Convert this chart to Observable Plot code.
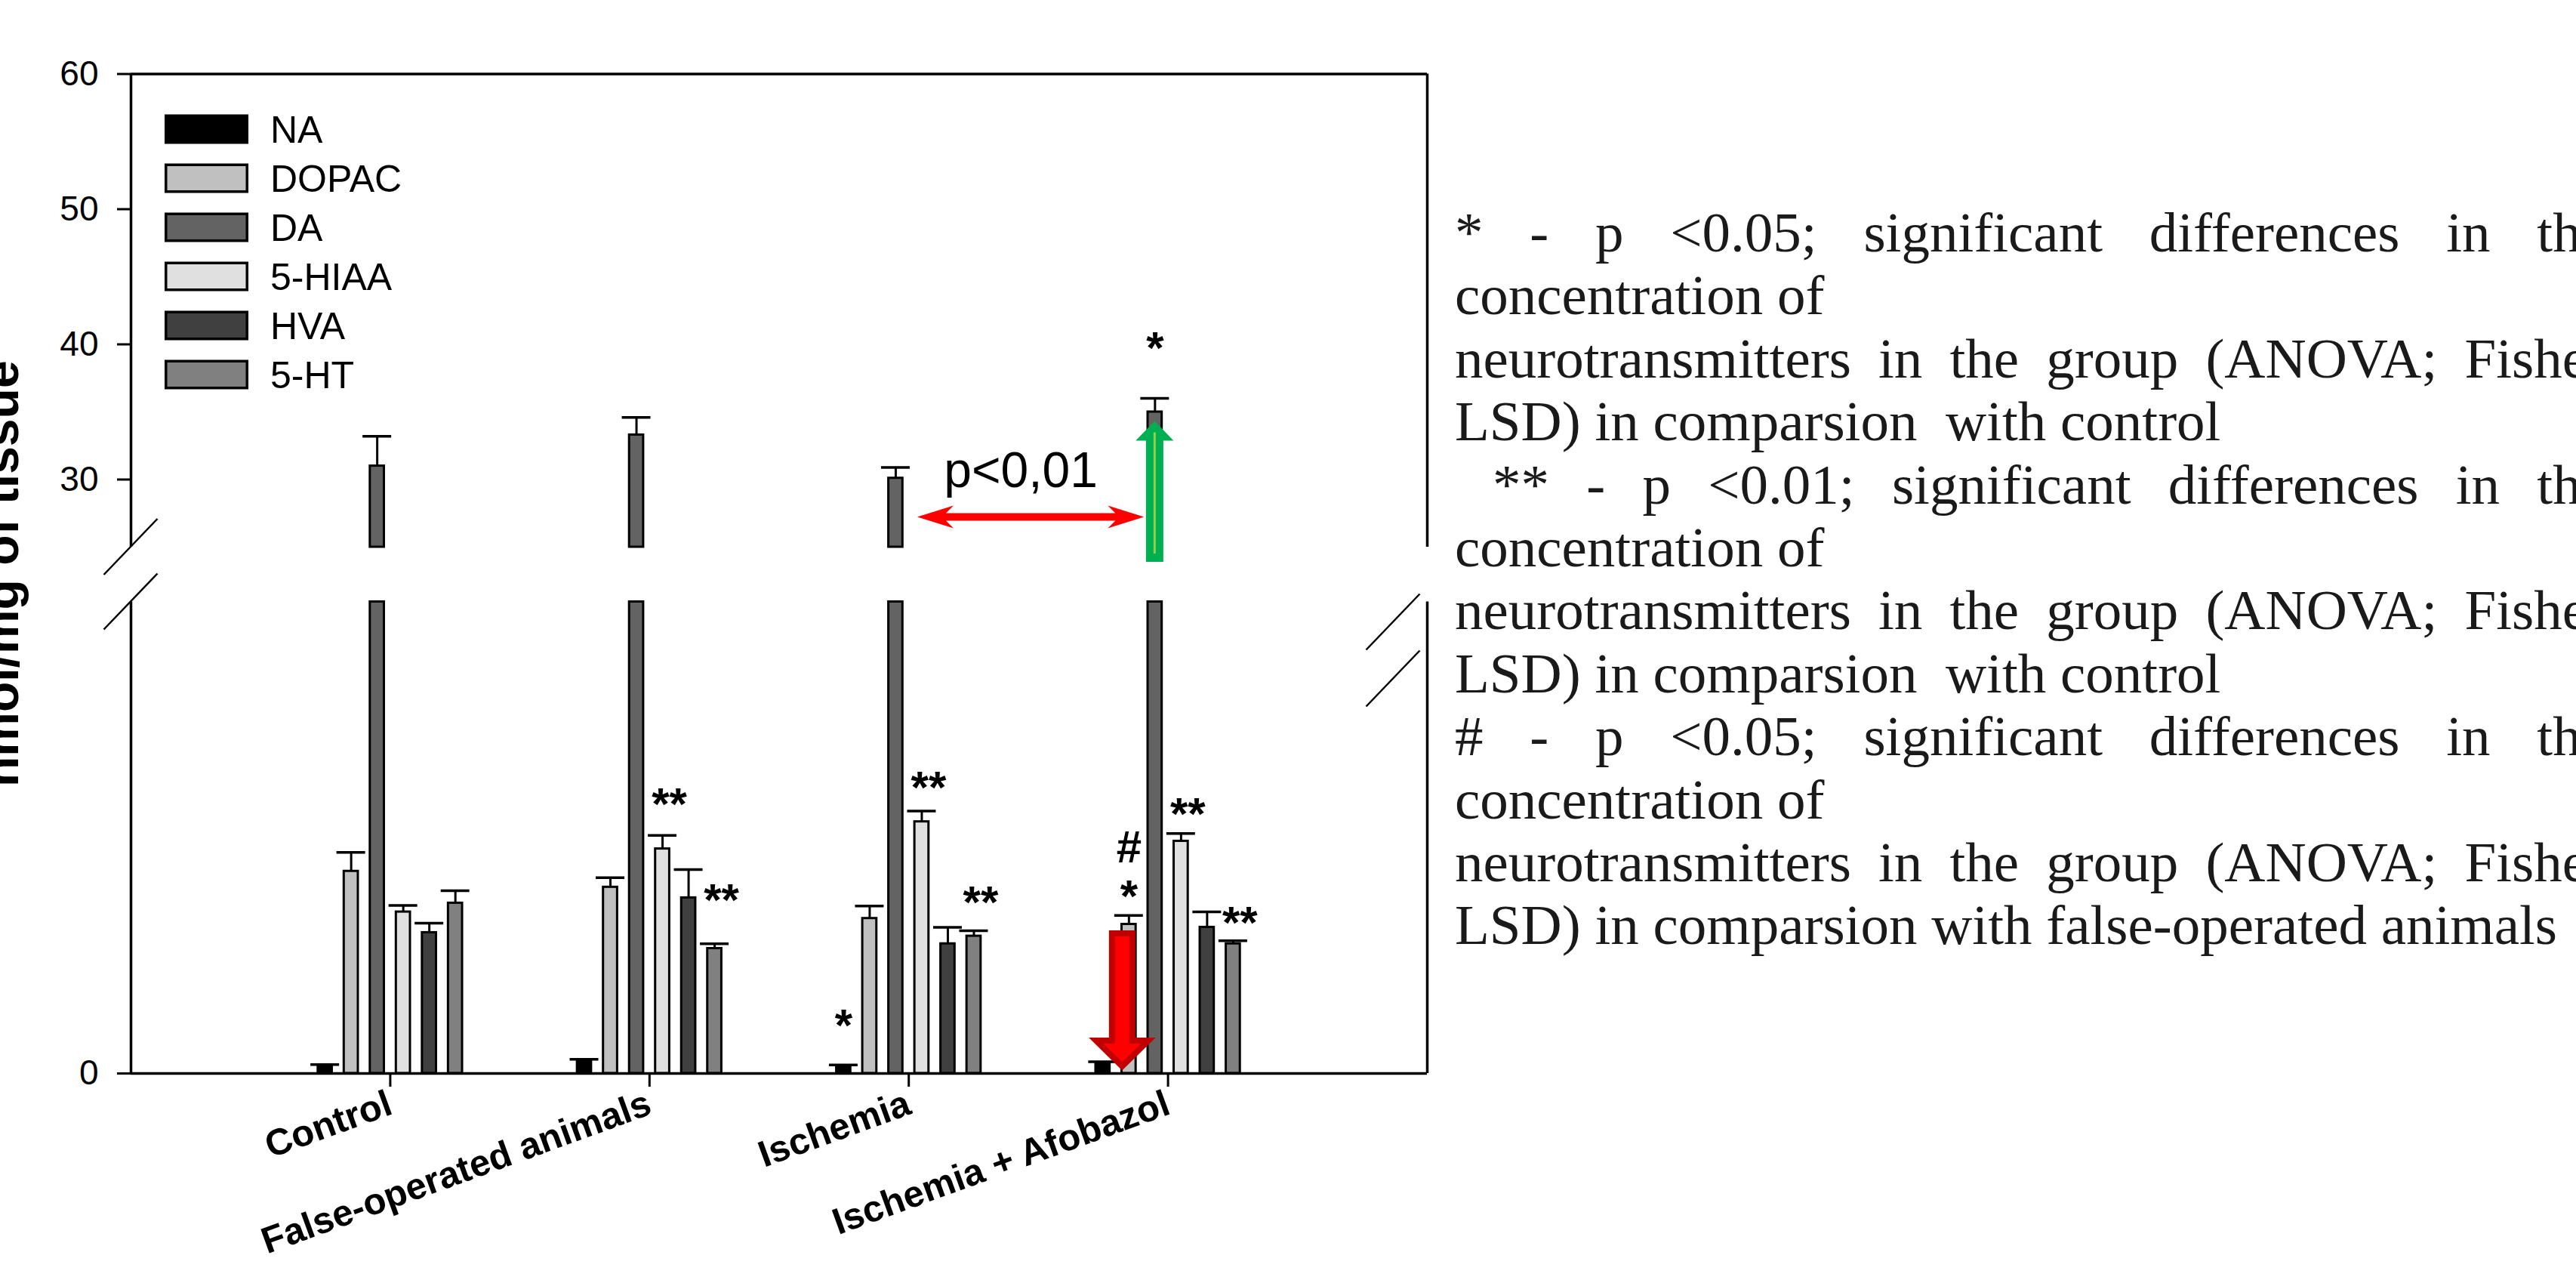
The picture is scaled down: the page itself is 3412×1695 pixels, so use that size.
<!DOCTYPE html>
<html>
<head>
<meta charset="utf-8">
<script src="https://cdn.jsdelivr.net/npm/d3@7"></script>
<script src="https://cdn.jsdelivr.net/npm/@observablehq/plot@0.6"></script>
<style>
  html, body { margin: 0; padding: 0; background: #fff; }
  body { width: 3412px; height: 1695px; overflow: hidden; position: relative; }
  #chart { position: absolute; left: 0; top: 0; }
  #notes { position: absolute; left: 1927px; top: 266px; width: 1525px;
    font-family: "Liberation Serif", "Times New Roman", serif; font-size: 75px;
    line-height: 83.4px; color: #1a1a1a; }
  #notes div { white-space: pre; }
  #notes div.j { text-align: justify; text-align-last: justify; white-space: normal; }
  #chart g[aria-label="x-axis tick label"] text { font-weight: bold; }
</style>
</head>
<body>
<div id="chart"></div>
<div id="notes"></div>
<script>
// ---------------- data ----------------
const groups = ["Control", "False-operated animals", "Ischemia", "Ischemia + Afobazol"];
const series = ["NA", "DOPAC", "DA", "5-HIAA", "HVA", "5-HT"];
const seriesColors = ["#000000", "#c0c0c0", "#636363", "#e0e0e0", "#404040", "#808080"];

// means (order of series)
const meanControl  = [0.13, 3.43, 31.0, 2.74, 2.39, 2.89];
const meanFalseOp  = [0.20, 3.16, 33.3, 3.81, 2.98, 2.12];
const meanIschemia = [0.115, 2.63, 30.1, 4.27, 2.20, 2.33];
const meanAfobazol = [0.18, 2.53, 35.0, 3.94, 2.48, 2.20];
// standard errors
const errControl  = [0.02, 0.32, 2.2, 0.11, 0.16, 0.21];
const errFalseOp  = [0.04, 0.16, 1.3, 0.23, 0.48, 0.08];
const errIschemia = [0.03, 0.21, 0.8, 0.18, 0.28, 0.09];
const errAfobazol = [0.02, 0.15, 1.0, 0.13, 0.26, 0.05];

const yTicks = [0, 30, 40, 50, 60];
const lowerDomain = [0, 8];    // lower (unlabelled) segment of the broken axis
const upperDomain = [25, 60];  // upper segment

const annotations = [
  {group: "False-operated animals", series: "5-HIAA", label: "**", y: 4.75},
  {group: "False-operated animals", series: "5-HT",   label: "**", y: 3.12},
  {group: "Ischemia",               series: "NA",     label: "*",  y: 1.0},
  {group: "Ischemia",               series: "5-HIAA", label: "**", y: 5.03},
  {group: "Ischemia",               series: "5-HT",   label: "**", y: 3.08},
  {group: "Ischemia + Afobazol",    series: "DOPAC",  label: "*",  y: 3.19},
  {group: "Ischemia + Afobazol",    series: "DOPAC",  label: "#",  y: 3.85},
  {group: "Ischemia + Afobazol",    series: "DA",     label: "*",  y: 40.5},
  {group: "Ischemia + Afobazol",    series: "5-HIAA", label: "**", y: 4.58},
  {group: "Ischemia + Afobazol",    series: "5-HT",   label: "**", y: 2.74}
];
const comparison = {from: ["Ischemia", "DA"], to: ["Ischemia + Afobazol", "DA"], y: 27.2, label: "p<0,01"};
const decreaseArrow = {group: "Ischemia + Afobazol", series: "DOPAC", from: 2.42, to: 0};
const increaseArrow = {group: "Ischemia + Afobazol", series: "DA", from: 20.3, to: 34.3};

const yLabel = "nmol/mg of tissue";
const noteLines = [
  {text: "* - p <0.05; significant differences in the", justify: true},
  {text: "concentration of"},
  {text: "neurotransmitters in the group (ANOVA; Fisher", justify: true},
  {text: "LSD) in comparsion  with control"},
  {text: "** - p <0.01; significant differences in the", justify: true, indent: true},
  {text: "concentration of"},
  {text: "neurotransmitters in the group (ANOVA; Fisher", justify: true},
  {text: "LSD) in comparsion  with control"},
  {text: "# - p <0.05; significant differences in the", justify: true},
  {text: "concentration of"},
  {text: "neurotransmitters in the group (ANOVA; Fisher", justify: true},
  {text: "LSD) in comparsion with false-operated animals"}
];

// ---------------- layout ----------------
const W = 1900, H = 1695;
const mL = 173, mR = 10, mT = 97.5, mB = 274;
const segLowPx = 624.5, gapPx = 72.5, segUpPx = 626.5;   // broken-axis segment heights (px)
const pitch = 0.1005, hw = 0.0272, capHW = 0.0553, starShift = 0.026;

// broken-axis transform: data value -> virtual pixel distance above baseline
const brokenY = v => v <= lowerDomain[1]
  ? (v - lowerDomain[0]) / (lowerDomain[1] - lowerDomain[0]) * segLowPx
  : v >= upperDomain[0]
    ? segLowPx + gapPx + (v - upperDomain[0]) / (upperDomain[1] - upperDomain[0]) * segUpPx
    : segLowPx + (v - lowerDomain[1]) / (upperDomain[0] - lowerDomain[1]) * gapPx;

const means = [meanControl, meanFalseOp, meanIschemia, meanAfobazol];
const errs = [errControl, errFalseOp, errIschemia, errAfobazol];
const xPos = (g, s) => groups.indexOf(g) + 1 + (series.indexOf(s) - 2.5) * pitch;
const records = groups.flatMap((g, gi) => series.map((s, si) => ({
  group: g, series: s, x: xPos(g, s), value: means[gi][si], err: errs[gi][si]
})));
const xEdges = [0, groups.length + 1];
const segments = [lowerDomain, upperDomain];
const frameSides = xEdges.flatMap(xe => segments.map(sg => ({x: xe, y1: sg[0], y2: sg[1]})));
// axis marks receive positions already in the broken (transformed) space
const yTickPos = yTicks.map(brokenY);

function decorations(index, scales) {
  const x = scales.x, y = v => scales.y(brokenY(v));
  const g = d3.create("svg:g").attr("text-anchor", "start");
  // legend
  const lx = mL + 45, ly = mT + 73.5, step = 65;
  series.forEach((s, i) => {
    const cy = ly + i * step;
    g.append("rect").attr("x", lx + 1.75).attr("y", cy - 17.75).attr("width", 107.5).attr("height", 35.5)
      .attr("fill", seriesColors[i]).attr("stroke", "black").attr("stroke-width", 3.5);
    g.append("text").attr("x", lx + 140).attr("y", cy + 17.5).attr("font-size", 50)
      .attr("text-anchor", "start").attr("fill", "black").text(s);
  });
  // axis break marks
  const brk = (cx, cy) => g.append("line").attr("x1", cx - 35.5).attr("y1", cy + 37)
    .attr("x2", cx + 35.5).attr("y2", cy - 37).attr("stroke", "black").attr("stroke-width", 2.5);
  brk(x(xEdges[0]), y(upperDomain[0]));
  brk(x(xEdges[0]), y(lowerDomain[1]));
  brk(x(xEdges[1]) - 45, y(lowerDomain[1]) + 27);
  brk(x(xEdges[1]) - 45, y(lowerDomain[1]) + 102);
  // comparison double arrow
  const xa = x(xPos(...comparison.from)) + 29, xb = x(xPos(...comparison.to)) - 14, Y = y(comparison.y);
  const pts = [[xa, Y], [xa + 48, Y - 15], [xa + 38, Y - 5], [xb - 38, Y - 5], [xb - 48, Y - 15], [xb, Y],
               [xb - 48, Y + 15], [xb - 38, Y + 5], [xa + 38, Y + 5], [xa + 48, Y + 15]];
  g.append("path").attr("d", "M" + pts.join("L") + "Z").attr("fill", "#ff0000");
  g.append("text").attr("x", (xa + xb) / 2 - 13).attr("y", Y - 40).attr("text-anchor", "middle")
    .attr("font-size", 66).attr("fill", "black").text(comparison.label);
  // green increase arrow
  {
    const cx = x(xPos(increaseArrow.group, increaseArrow.series));
    const y0 = y(increaseArrow.from), y1 = y(increaseArrow.to);
    const hb = y1 + 26;
    const p = [[cx - 11.5, y0], [cx - 11.5, hb], [cx - 25, hb], [cx, y1], [cx + 25, hb], [cx + 11.5, hb], [cx + 11.5, y0]];
    g.append("path").attr("d", "M" + p.join("L") + "Z").attr("fill", "#00b050");
    g.append("line").attr("x1", cx).attr("x2", cx).attr("y1", y0 - 11).attr("y2", y1 + 15)
      .attr("stroke", "#92d050").attr("stroke-width", 3);
  }
  // red decrease arrow
  {
    const cx = x(xPos(decreaseArrow.group, decreaseArrow.series)) - 8.5;
    const y0 = y(decreaseArrow.from) + 4, y1 = y(decreaseArrow.to) - 9;
    const hb = y1 - 34;
    const p = [[cx - 13.5, y0], [cx + 13.5, y0], [cx + 13.5, hb], [cx + 34.5, hb], [cx, y1], [cx - 34.5, hb], [cx - 13.5, hb]];
    g.append("path").attr("d", "M" + p.join("L") + "Z").attr("fill", "#ff0000")
      .attr("stroke", "#c00000").attr("stroke-width", 8).attr("stroke-linejoin", "miter");
  }
  return g.node();
}

const chart = Plot.plot({
  width: W, height: H,
  marginLeft: mL, marginRight: mR, marginTop: mT, marginBottom: mB,
  style: {fontFamily: "'Liberation Sans', Arial, sans-serif", background: "white", color: "black"},
  x: {domain: xEdges},
  y: {transform: brokenY},
  color: {domain: series, range: seriesColors},
  marks: [
    Plot.ruleX(records, {x: "x", y1: "value", y2: d => d.value + d.err, stroke: "black", strokeWidth: 3}),
    Plot.ruleY(records, {y: d => d.value + d.err, x1: d => d.x - capHW, x2: d => d.x + capHW, stroke: "black", strokeWidth: 3.5}),
    Plot.rect(records, {x1: d => d.x - hw, x2: d => d.x + hw, y1: () => lowerDomain[0],
      y2: d => Math.min(d.value, lowerDomain[1]), fill: "series", stroke: "black", strokeWidth: 3}),
    Plot.rect(records.filter(d => d.value > upperDomain[0]), {x1: d => d.x - hw, x2: d => d.x + hw,
      y1: () => upperDomain[0], y2: "value", fill: "series", stroke: "black", strokeWidth: 3}),
    Plot.ruleX(frameSides, {x: "x", y1: "y1", y2: "y2", stroke: "black", strokeWidth: 3.5}),
    Plot.ruleY([lowerDomain[0], upperDomain[1]], {x1: () => xEdges[0], x2: () => xEdges[1], stroke: "black", strokeWidth: 3.5}),
    Plot.axisY({ticks: yTickPos, tickFormat: d => yTicks[yTickPos.findIndex(p => Math.abs(p - d) < 1e-6)],
      tickSize: 18, tickPadding: 25, fontSize: 46, strokeWidth: 3, label: null}),
    Plot.axisX({ticks: groups.map((g, i) => i + 1), tickFormat: d => groups[d - 1], tickRotate: -20,
      tickSize: 18, tickPadding: 20, fontSize: 49, fontWeight: "bold", strokeWidth: 3, label: null}),
    Plot.text(annotations.filter(a => a.label !== "#"), {x: a => xPos(a.group, a.series) + (a.label === "**" ? starShift : 0),
      y: "y", text: "label", fontSize: 60, fontWeight: "bold", lineAnchor: "middle", dy: 15, fill: "black"}),
    Plot.text(annotations.filter(a => a.label === "#"), {x: a => xPos(a.group, a.series),
      y: "y", text: "label", fontSize: 60, fontWeight: "bold", lineAnchor: "middle", dy: 2, fill: "black"}),
    Plot.text([yLabel], {frameAnchor: "left", rotate: -90, dx: -171, fontSize: 66, fontWeight: "bold",
      textAnchor: "middle", lineAnchor: "middle", fill: "black"}),
    decorations
  ]
});
document.getElementById("chart").appendChild(chart);

const notes = document.getElementById("notes");
noteLines.forEach(l => {
  const div = document.createElement("div");
  div.textContent = l.text;
  if (l.justify) div.className = "j";
  if (l.indent) div.style.paddingLeft = "50px";
  notes.appendChild(div);
});
</script>
</body>
</html>
